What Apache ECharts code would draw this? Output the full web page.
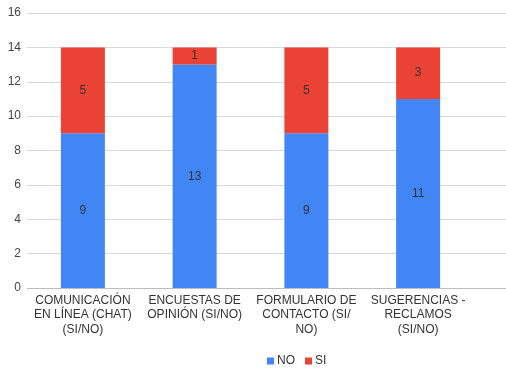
<!DOCTYPE html>
<html><head><meta charset="utf-8">
<script src="https://cdn.jsdelivr.net/npm/echarts@6/dist/echarts.min.js"></script>
<style>html,body{margin:0;padding:0;background:#fff}#c{width:506px;height:370px}</style>
</head><body><div id="c"></div>
<script>
const categories = ["COMUNICACIÓN\nEN LÍNEA (CHAT)\n(SI/NO)", "ENCUESTAS DE\nOPINIÓN (SI/NO)", "FORMULARIO DE\nCONTACTO (SI/\nNO)", "SUGERENCIAS -\nRECLAMOS\n(SI/NO)"];
const seriesNO = [9, 13, 9, 11];
const seriesSI = [5, 1, 5, 3];
const yTicks = {min: 0, max: 16, interval: 2};

const font = "Liberation Sans, Arial, sans-serif";
const chart = echarts.init(document.getElementById('c'), null, {renderer: 'canvas'});
const lbl = {show: true, position: 'inside', color: '#333', fontSize: 12, fontFamily: font};
chart.setOption({
  animation: false,
  textStyle: {fontFamily: font},
  grid: [
    {left: 27, right: 32, top: 13, bottom: 82},
    {left: 27, right: 0, top: 13, bottom: 82}
  ],
  xAxis: [
    {type: 'category', data: categories, gridIndex: 0,
     axisLine: {show: false}, axisTick: {show: false},
     axisLabel: {color: '#333', fontSize: 12, fontFamily: font, margin: 5, lineHeight: 14.5, interval: 0}},
    {type: 'value', gridIndex: 1, show: false}
  ],
  yAxis: [
    {type: 'value', gridIndex: 0, min: yTicks.min, max: yTicks.max, interval: yTicks.interval,
     axisLine: {show: false}, axisTick: {show: false}, splitLine: {show: false},
     axisLabel: {color: '#444', fontSize: 12, fontFamily: font, margin: 6}},
    {type: 'value', gridIndex: 1, min: yTicks.min, max: yTicks.max, interval: yTicks.interval,
     axisLine: {show: false}, axisTick: {show: false}, axisLabel: {show: false},
     splitLine: {lineStyle: {color: ['#bdbdbd', '#d9d9d9', '#d9d9d9', '#d9d9d9', '#d9d9d9', '#d9d9d9', '#d9d9d9', '#d9d9d9', '#d9d9d9']}}}
  ],
  legend: {
    data: ['NO', 'SI'], left: 262, top: 350, itemWidth: 7, itemHeight: 7, itemGap: 10,
    icon: 'rect', textStyle: {color: '#333', fontSize: 12, fontFamily: font, padding: [0,0,0,-2]}
  },
  series: [
    {name: 'NO', type: 'bar', stack: 'a', data: seriesNO, barWidth: 44, xAxisIndex: 0, yAxisIndex: 0,
     itemStyle: {color: '#4285F4'}, label: lbl, z: 3},
    {name: 'SI', type: 'bar', stack: 'a', data: seriesSI, barWidth: 44, xAxisIndex: 0, yAxisIndex: 0,
     itemStyle: {color: '#EA4335'}, label: lbl, z: 3}
  ]
});
</script></body></html>
